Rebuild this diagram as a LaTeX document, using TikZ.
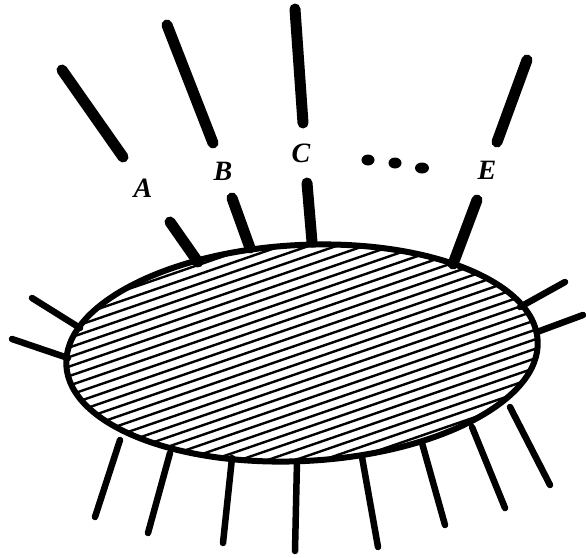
\documentclass[tikz,border=0pt]{standalone}
\usepackage{fontspec}
\setmainfont{Liberation Serif}
\begin{document}
\begin{tikzpicture}[x=1pt,y=-1pt,
  thickray/.style={line width=11pt,line cap=round},
  thinray/.style={line width=6.5pt,line cap=round},
  rim/.style={line width=6pt},
  hatch/.style={line width=2.4pt},
  lab/.style={font=\fontsize{28}{28}\selectfont\bfseries\itshape,inner sep=0pt},
  dot/.style={fill=black}]
\useasboundingbox (0,0) rectangle (586,557);
% hatched body
\begin{scope}
  \clip[rotate around={3:(302,353)}] (302,353) ellipse [x radius=236, y radius=108];
  \foreach \i in {-17,...,17}
    \draw[hatch,rotate around={19:(302,353)}] (0,353+\i*9) -- (604,353+\i*9);
\end{scope}
\draw[rim,rotate around={3:(302,353)}] (302,353) ellipse [x radius=236, y radius=108];
% top rays (outer and inner parts)
\coordinate (a1) at (62,70);  \coordinate (a2) at (123,157);
\coordinate (a3) at (170,222); \coordinate (a4) at (198,262);
\coordinate (b1) at (167,25); \coordinate (b2) at (213,143);
\coordinate (b3) at (232,198); \coordinate (b4) at (250,248);
\coordinate (c1) at (295,9);  \coordinate (c2) at (303,123);
\coordinate (c3) at (307,183); \coordinate (c4) at (312,242);
\coordinate (e1) at (527,60); \coordinate (e2) at (497,142);
\coordinate (e3) at (477,200); \coordinate (e4) at (453,264);
\foreach \r in {a,b,c,e}{
  \draw[thickray] (\r1) -- (\r2);
  \draw[thickray] (\r3) -- (\r4);
}
% labels
\node[lab] (A) at (143,188) {A};
\node[lab] (B) at (223,171) {B};
\node[lab] (C) at (301,153) {C};
\node[lab] (E) at (487,170) {E};
\fill[dot] (368,160) ellipse [x radius=6.5, y radius=5.5];
\fill[dot] (395,163) ellipse [x radius=6.5, y radius=5.5];
\fill[dot] (422,168) ellipse [x radius=7, y radius=5.5];
% side and bottom rays
\coordinate (l1o) at (32,298);  \coordinate (l1i) at (80,328);
\coordinate (l2o) at (12,339);  \coordinate (l2i) at (68,358);
\coordinate (r1o) at (565,282); \coordinate (r1i) at (520,307);
\coordinate (r2o) at (583,315); \coordinate (r2i) at (537,332);
\coordinate (d1i) at (120,440); \coordinate (d1o) at (95,517);
\coordinate (d2i) at (170,453); \coordinate (d2o) at (148,533);
\coordinate (d3i) at (232,458); \coordinate (d3o) at (223,543);
\coordinate (d4i) at (297,461); \coordinate (d4o) at (295,551);
\coordinate (d5i) at (362,457); \coordinate (d5o) at (378,547);
\coordinate (d6i) at (422,443); \coordinate (d6o) at (445,525);
\coordinate (d7i) at (472,427); \coordinate (d7o) at (505,508);
\coordinate (d8i) at (510,407); \coordinate (d8o) at (550,485);
\foreach \r in {l1,l2,r1,r2,d1,d2,d3,d4,d5,d6,d7,d8}
  \draw[thinray] (\r i) -- (\r o);
\end{tikzpicture}
\end{document}
